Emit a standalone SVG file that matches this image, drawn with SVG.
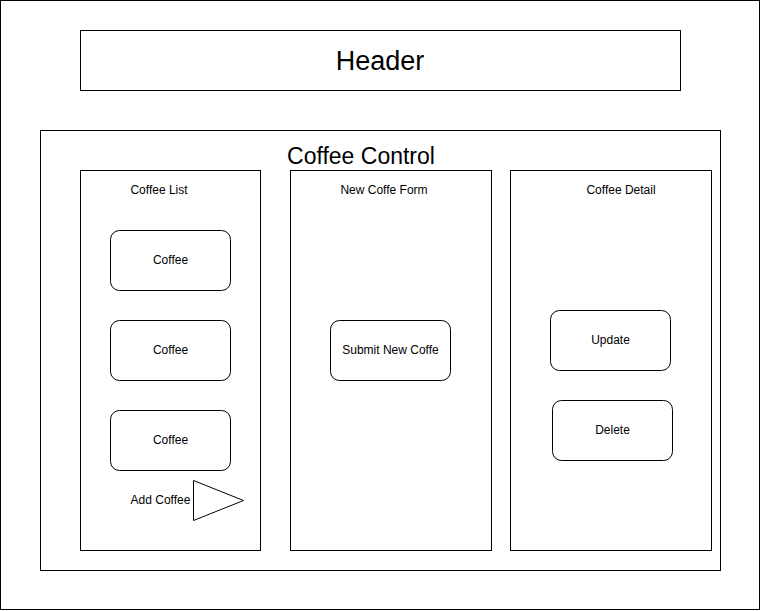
<svg xmlns="http://www.w3.org/2000/svg" width="761" height="611" viewBox="0 0 761 611">
<style>
.box{fill:#fff;stroke:#000;stroke-width:1}
.btn{fill:#fff;stroke:#000;stroke-width:1}
text{font-family:"Liberation Sans",Arial,Helvetica,sans-serif;fill:#000;text-anchor:middle}
.s{font-size:12px}
</style>
<rect width="761" height="611" fill="#fff"/>
<g id="page"><rect class="box" x="0.5" y="0.5" width="759" height="609"/></g>
<g id="header"><rect class="box" x="80.5" y="30.5" width="600" height="60"/><text x="380" y="70" font-size="27">Header</text></g>
<g id="coffee-control"><rect class="box" x="40.5" y="130.5" width="680" height="440"/><text x="361" y="164" font-size="23">Coffee Control</text></g>
<g id="coffee-list"><rect class="box" x="80.5" y="170.5" width="180" height="380"/><text class="s" x="159" y="194">Coffee List</text></g>
<g id="new-coffe-form"><rect class="box" x="290.5" y="170.5" width="201" height="380"/><text class="s" x="384" y="194">New Coffe Form</text></g>
<g id="coffee-detail"><rect class="box" x="510.5" y="170.5" width="201" height="380"/><text class="s" x="621" y="194">Coffee Detail</text></g>
<g id="coffee-1"><rect class="btn" x="110.5" y="230.5" width="120" height="60" rx="9"/><text class="s" x="170.5" y="264">Coffee</text></g>
<g id="coffee-2"><rect class="btn" x="110.5" y="320.5" width="120" height="60" rx="9"/><text class="s" x="170.5" y="354">Coffee</text></g>
<g id="coffee-3"><rect class="btn" x="110.5" y="410.5" width="120" height="60" rx="9"/><text class="s" x="170.5" y="444">Coffee</text></g>
<g id="add-coffee"><polygon class="box" points="193.5,480.5 193.5,520.5 243.5,500.5"/><text class="s" x="160.5" y="504">Add Coffee</text></g>
<g id="submit"><rect class="btn" x="330.5" y="320.5" width="120" height="60" rx="9"/><text class="s" x="390.5" y="354">Submit New Coffe</text></g>
<g id="update"><rect class="btn" x="550.5" y="310.5" width="120" height="60" rx="9"/><text class="s" x="610.5" y="344">Update</text></g>
<g id="delete"><rect class="btn" x="552.5" y="400.5" width="120" height="60" rx="9"/><text class="s" x="612.5" y="434">Delete</text></g>
<g id="connectors"></g>
</svg>
